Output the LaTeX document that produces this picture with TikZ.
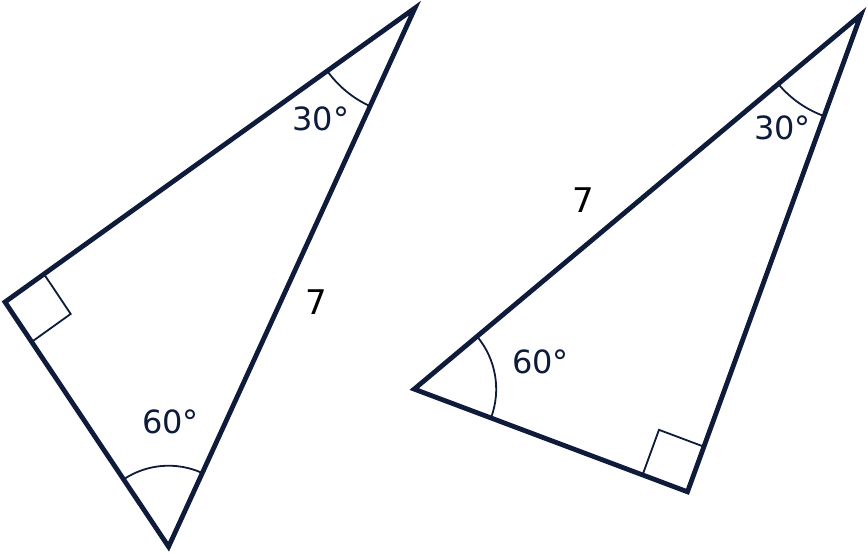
\documentclass[tikz,border=0pt]{standalone}
\usepackage{fontspec}
\setmainfont{DejaVu Sans}
\usetikzlibrary{angles}
\definecolor{navy}{HTML}{0E1B3A}
\begin{document}
\begin{tikzpicture}[x=1pt,y=-1pt,
  side/.style={draw=navy, line width=4.8pt, line join=miter},
  anglemark/.style={draw=navy, line width=1.8pt},
  anglelabel/.style={text=navy, font=\fontsize{32}{38}\selectfont, inner sep=0pt},
  sidelabel/.style={text=black, font=\fontsize{34}{40}\selectfont, inner sep=0pt}]
\useasboundingbox (0,0) rectangle (868,554);
% left triangle
\coordinate (T) at (415,8);
\coordinate (L) at (5,302);
\coordinate (B) at (168.6,546.7);
\pic[anglemark, angle radius=81pt] {angle = T--B--L};
\pic[anglemark, angle radius=108pt] {angle = L--T--B};
\pic[anglemark, angle radius=48pt] {right angle = B--L--T};
\draw[side] (T) -- (L) -- (B) -- cycle;
\node[anglelabel] (a30) at (321,118.5) {30°};
\node[anglelabel] (a60) at (170.5,422) {60°};
\node[sidelabel] (h7) at (316,302.5) {7};
% right triangle
\coordinate (T2) at (861,14.6);
\coordinate (L2) at (414.2,389.1);
\coordinate (R) at (687.5,491.8);
\pic[anglemark, angle radius=82pt] {angle = R--L2--T2};
\pic[anglemark, angle radius=108pt] {angle = L2--T2--R};
\pic[anglemark, angle radius=48pt] {right angle = T2--R--L2};
\draw[side] (T2) -- (L2) -- (R) -- cycle;
\node[anglelabel] (b30) at (782.5,127.5) {30°};
\node[anglelabel] (b60) at (540.5,362) {60°};
\node[sidelabel] (k7) at (583,200) {7};
\end{tikzpicture}
\end{document}
